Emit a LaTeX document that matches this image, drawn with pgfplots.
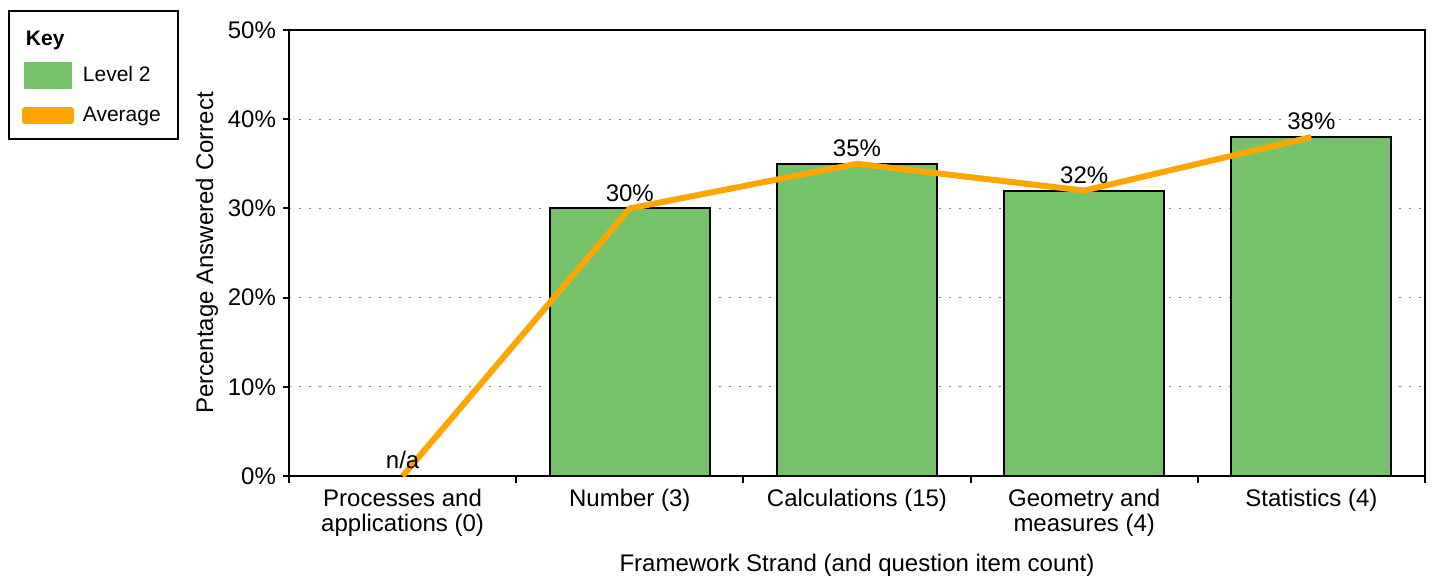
\documentclass[border=0pt]{standalone}
\usepackage{fontspec}
\setmainfont{Liberation Sans}
\usepackage{pgfplots}
\pgfplotsset{compat=1.18}
\definecolor{bargreen}{RGB}{117,194,107}
\definecolor{avgorange}{RGB}{255,165,0}
\newcommand{\fs}{\fontsize{12}{12.5}\selectfont}
\newcommand{\lfs}{\fontsize{10.5}{12}\selectfont}
\begin{document}
\begin{tikzpicture}
\path[use as bounding box] (-144.5pt,-49.5pt) rectangle (573.5pt,238pt);
\begin{axis}[
 at={(0,0)}, anchor=south west,
 scale only axis, width=568pt, height=223pt,
 xmin=-0.5, xmax=4.5, ymin=0, ymax=50,
 xtick={0,1,2,3,4},
 xticklabels={{Processes and\\applications (0)},Number (3),Calculations (15),{Geometry and\\measures (4)},Statistics (4)},
 xticklabel style={align=center, font=\fs},
 yticklabel style={font=\fs},
 minor xtick={-0.5,0.5,1.5,2.5,3.5,4.5},
 major x tick style={draw=none},
 tick align=outside, tick pos=left,
 minor tick length=3.5pt, major tick length=3pt,
 ytick={0,10,...,50},
 yticklabel={\pgfmathprintnumber{\tick}\%},
 /pgf/number format/assume math mode=true,
 ymajorgrids,
 grid style={gray, dash pattern=on 1pt off 4pt, line width=0.5pt},
 axis line style={line width=1pt},
 tick style={line width=1pt, black},
 xlabel={Framework Strand (and question item count)},
 ylabel={Percentage Answered Correct},
 xlabel shift=2pt, ylabel shift=-2pt,
 label style={font=\fs},
 legend style={at={(-0.2474,1.0448)}, anchor=north west, draw=black, line width=1pt,
   inner xsep=6.5pt, inner ysep=5pt, row sep=7pt, cells={anchor=west},
   font=\lfs,
   /tikz/every odd column/.append style={column sep=2.5pt}},
]
\addlegendimage{legend image code/.code={\node[anchor=west,inner sep=0pt,font=\lfs\bfseries,yshift=-6.5pt] at (0pt,0pt) {Key};}}
\addlegendentry{}
\addplot[ybar, bar width=80pt, fill=bargreen, draw=black, line width=1pt,
  legend image code/.code={\fill[bargreen] (0pt,-6.25pt) rectangle (23pt,6.25pt);}]
  coordinates {(1,30) (2,35) (3,32) (4,38)};
\addlegendentry{Level 2}
\addplot[sharp plot, avgorange, line width=3pt, line join=round, no marks,
  nodes near coords, point meta=explicit symbolic,
  nodes near coords style={text=black, font=\fs, anchor=south, inner sep=2pt},
  legend image code/.code={\fill[avgorange] (0pt,-2.75pt) rectangle (23pt,2.75pt);}]
  table[meta=label] {
x y label
0 0 n/a
1 30 30\%
2 35 35\%
3 32 32\%
4 38 38\%
};
\addlegendentry{Average}
\end{axis}
\end{tikzpicture}
\end{document}
